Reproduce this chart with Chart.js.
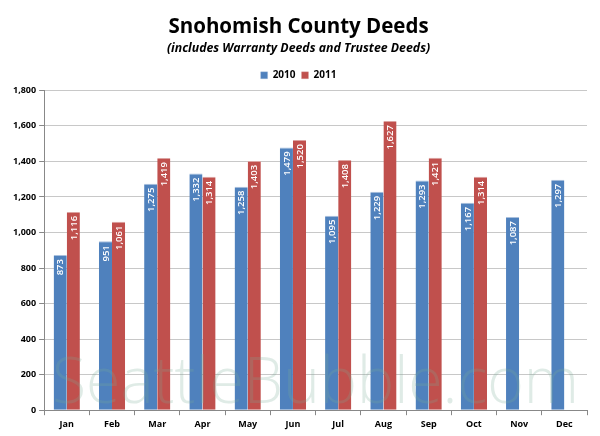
<!DOCTYPE html>
<html><head><meta charset="utf-8">
<script src="https://cdn.jsdelivr.net/npm/chart.js@4/dist/chart.umd.min.js"></script>
<style>html,body{margin:0;padding:0;background:#fff}#wrap{width:600px;height:436px}</style>
</head><body><div id="wrap"><canvas id="c" width="600" height="436"></canvas></div>
<script>
const months = ["Jan","Feb","Mar","Apr","May","Jun","Jul","Aug","Sep","Oct","Nov","Dec"];
const deeds2010 = [873,951,1275,1332,1258,1479,1095,1229,1293,1167,1087,1297];
const deeds2011 = [1116,1061,1419,1314,1403,1520,1408,1627,1421,1314,null,null];
const yTicks = [0,200,400,600,800,1000,1200,1400,1600,1800];

const FONT = "'Open Sans', 'Liberation Sans', sans-serif";

const watermark = {
  id: 'watermark',
  afterDatasetsDraw(chart) {
    const ctx = chart.ctx;
    ctx.save();
    const txt = "SeattleBubble.com";
    ctx.font = "300 64px " + FONT;
    const w = ctx.measureText(txt).width;
    const target = 527;
    ctx.translate(52, 403);
    ctx.scale(target / w, 1);
    ctx.fillStyle = "rgba(120,170,150,0.24)";
    ctx.textBaseline = "alphabetic";
    ctx.textAlign = "left";
    ctx.fillText(txt, 0, 0);
    ctx.restore();
  }
};

const barLabels = {
  id: 'barLabels',
  afterDatasetsDraw(chart) {
    const ctx = chart.ctx;
    ctx.save();
    ctx.font = "600 9.5px " + FONT;
    ctx.fillStyle = "#ffffff";
    ctx.textAlign = "right";
    ctx.textBaseline = "middle";
    chart.data.datasets.forEach((ds, i) => {
      const meta = chart.getDatasetMeta(i);
      meta.data.forEach((bar, j) => {
        const v = ds.data[j];
        if (v == null) return;
        ctx.save();
        ctx.translate(bar.x + 0.5, bar.y + 4);
        ctx.rotate(-Math.PI / 2);
        ctx.fillText(v.toLocaleString('en-US'), 0, 0);
        ctx.restore();
      });
    });
    ctx.restore();
  }
};

new Chart(document.getElementById('c'), {
  type: 'bar',
  data: {
    labels: months,
    datasets: [
      { label: '2010', data: deeds2010, backgroundColor: '#4F81BD', borderColor: '#a9c0dd', borderWidth: {top:1,left:0,right:0,bottom:0} },
      { label: '2011', data: deeds2011, backgroundColor: '#C0504D', borderColor: '#dca3a1', borderWidth: {top:1,left:0,right:0,bottom:0} }
    ]
  },
  options: {
    responsive: false,
    animation: false,
    devicePixelRatio: 1,
    layout: { padding: { left: 10, right: 13, top: 6, bottom: 2 } },
    datasets: { bar: { categoryPercentage: 0.58, barPercentage: 1.0 } },
    plugins: {
      title: { display: true, text: 'Snohomish County Deeds', color: '#000', font: { family: FONT, size: 20.5, weight: 'bold' }, padding: { top: 9, bottom: 2 } },
      subtitle: { display: true, text: '(includes Warranty Deeds and Trustee Deeds)', color: '#000', font: { family: FONT, size: 12.3, weight: 'bold', style: 'italic' }, padding: { top: 0, bottom: 8 } },
      legend: { display: true, position: 'top', labels: { boxWidth: 7, boxHeight: 7, color: '#000', font: { family: FONT, size: 10, weight: 'bold' }, padding: 6 } },
      tooltip: { enabled: false }
    },
    scales: {
      x: {
        grid: { display: true, drawOnChartArea: false, drawTicks: true, tickLength: 5, color: '#888', offset: true },
        border: { color: '#888' },
        ticks: { color: '#000', font: { family: FONT, size: 9, weight: 'bold' }, padding: 4 }
      },
      y: {
        min: 0, max: 1800,
        afterBuildTicks(axis) { axis.ticks = yTicks.map(v => ({ value: v })); },
        grid: { color: '#c8c8c8', lineWidth: 1, drawTicks: true, tickLength: 5, tickColor: '#888' },
        border: { color: '#888' },
        ticks: { color: '#000', font: { family: FONT, size: 9, weight: 'bold' }, padding: 3,
          callback: v => v.toLocaleString('en-US') }
      }
    }
  },
  plugins: [barLabels, watermark]
});
</script></body></html>
